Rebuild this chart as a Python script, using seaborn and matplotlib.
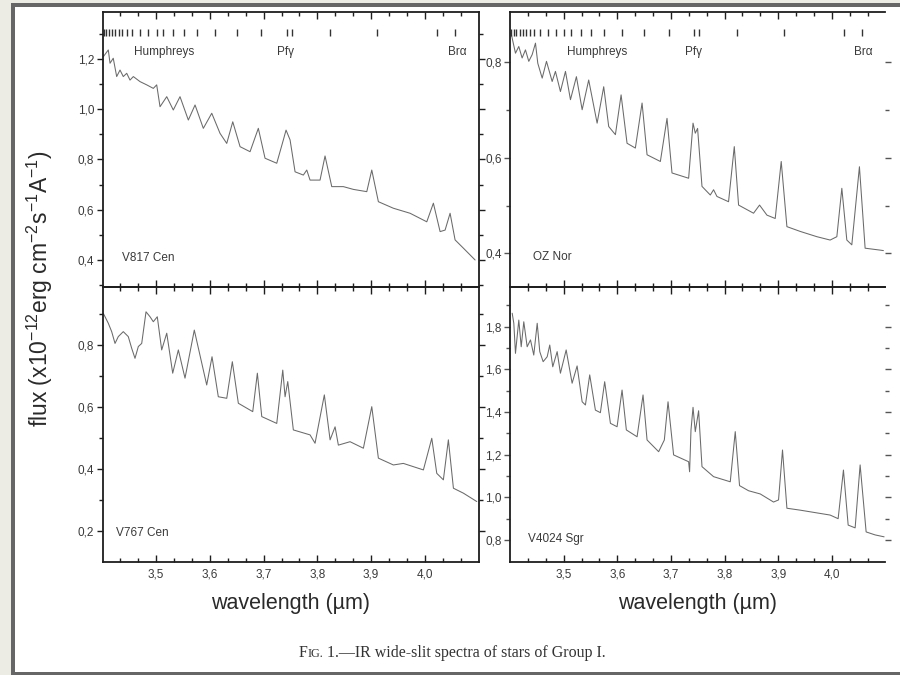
import matplotlib
matplotlib.use("Agg")
import matplotlib.pyplot as plt
import seaborn as sns
import pandas as pd
from matplotlib.ticker import FixedLocator, FuncFormatter
from matplotlib.patches import Rectangle

# ---------------- data ----------------
v817_wl = [3.4015, 3.4108, 3.4140, 3.4200, 3.4264, 3.4326, 3.4387, 3.4451, 3.4512, 3.4574,
           3.4698, 3.4823, 3.4946, 3.5009, 3.5071, 3.5196, 3.5318, 3.5443, 3.5598, 3.5723,
           3.5877, 3.6034, 3.6188, 3.6313, 3.6425, 3.6561, 3.6747, 3.6901, 3.7026, 3.7244,
           3.7367, 3.7417, 3.7492, 3.7585, 3.7739, 3.7803, 3.7864, 3.8050, 3.8143, 3.8268,
           3.8484, 3.8670, 3.8920, 3.9013, 3.9136, 3.9415, 3.9726, 4.0037, 4.0160, 4.0285,
           4.0378, 4.0471, 4.0564, 4.0719, 4.0937]
v817_flux = [1.209, 1.236, 1.183, 1.203, 1.130, 1.156, 1.130, 1.143, 1.116, 1.130,
             1.110, 1.097, 1.083, 1.097, 1.010, 1.050, 0.997, 1.050, 0.957, 1.017,
             0.924, 0.984, 0.904, 0.864, 0.950, 0.851, 0.831, 0.924, 0.805, 0.785,
             0.878, 0.917, 0.878, 0.751, 0.738, 0.758, 0.718, 0.718, 0.814, 0.692,
             0.692, 0.681, 0.672, 0.758, 0.632, 0.606, 0.586, 0.552, 0.626, 0.513,
             0.519, 0.586, 0.480, 0.447, 0.400]

oznor_wl = [3.4020, 3.4102, 3.4164, 3.4226, 3.4288, 3.4350, 3.4413, 3.4475, 3.4518, 3.4600,
            3.4680, 3.4786, 3.4847, 3.4940, 3.5034, 3.5127, 3.5238, 3.5345, 3.5467, 3.5624,
            3.5747, 3.5840, 3.5965, 3.6071, 3.6182, 3.6337, 3.6462, 3.6555, 3.6803, 3.6927,
            3.7020, 3.7330, 3.7412, 3.7454, 3.7497, 3.7579, 3.7734, 3.7795, 3.7858, 3.8074,
            3.8181, 3.8261, 3.8540, 3.8652, 3.8790, 3.8944, 3.9056, 3.9162, 3.9410, 3.9721,
            3.9968, 4.0093, 4.0186, 4.0279, 4.0372, 4.0514, 4.0620, 4.0899, 4.0961]
oznor_flux = [0.860, 0.818, 0.832, 0.808, 0.825, 0.801, 0.815, 0.839, 0.797, 0.766,
              0.801, 0.759, 0.780, 0.738, 0.780, 0.721, 0.769, 0.700, 0.762, 0.672,
              0.748, 0.665, 0.648, 0.731, 0.630, 0.620, 0.714, 0.606, 0.592, 0.682,
              0.568, 0.557, 0.672, 0.651, 0.661, 0.540, 0.522, 0.533, 0.519, 0.508,
              0.623, 0.501, 0.484, 0.501, 0.480, 0.473, 0.592, 0.456, 0.446, 0.435,
              0.428, 0.435, 0.536, 0.428, 0.418, 0.581, 0.411, 0.407, 0.406]

v767_wl = [3.4015, 3.4108, 3.4171, 3.4233, 3.4294, 3.4387, 3.4480, 3.4544, 3.4605, 3.4667,
           3.4730, 3.4810, 3.4885, 3.4946, 3.5020, 3.5102, 3.5196, 3.5307, 3.5412, 3.5536,
           3.5709, 3.5940, 3.6039, 3.6156, 3.6313, 3.6417, 3.6529, 3.6797, 3.6883, 3.6965,
           3.7244, 3.7356, 3.7399, 3.7449, 3.7553, 3.7864, 3.7957, 3.8130, 3.8237, 3.8330,
           3.8391, 3.8609, 3.8857, 3.9013, 3.9136, 3.9415, 3.9601, 3.9974, 4.0130, 4.0223,
           4.0346, 4.0439, 4.0533, 4.0719, 4.0968]
v767_flux = [0.902, 0.870, 0.843, 0.805, 0.827, 0.843, 0.827, 0.789, 0.757, 0.795,
             0.805, 0.907, 0.891, 0.875, 0.891, 0.784, 0.838, 0.709, 0.784, 0.693,
             0.848, 0.671, 0.762, 0.633, 0.628, 0.746, 0.612, 0.585, 0.709, 0.569,
             0.547, 0.719, 0.633, 0.682, 0.526, 0.510, 0.483, 0.639, 0.494, 0.536,
             0.477, 0.488, 0.467, 0.601, 0.435, 0.413, 0.418, 0.397, 0.499, 0.386,
             0.365, 0.494, 0.338, 0.322, 0.295]

v4024_wl = [3.4041, 3.4071, 3.4102, 3.4164, 3.4209, 3.4257, 3.4320, 3.4382, 3.4443, 3.4507,
            3.4555, 3.4618, 3.4693, 3.4741, 3.4797, 3.4879, 3.4940, 3.5047, 3.5158, 3.5251,
            3.5345, 3.5406, 3.5486, 3.5592, 3.5685, 3.5765, 3.5872, 3.5996, 3.6089, 3.6169,
            3.6369, 3.6480, 3.6555, 3.6771, 3.6877, 3.6946, 3.7050, 3.7330, 3.7348, 3.7374,
            3.7412, 3.7454, 3.7516, 3.7579, 3.7795, 3.8106, 3.8199, 3.8279, 3.8447, 3.8665,
            3.8913, 3.9006, 3.9080, 3.9162, 3.9410, 3.9968, 4.0117, 4.0216, 4.0304, 4.0434,
            4.0527, 4.0639, 4.0806, 4.0974]
v4024_flux = [1.863, 1.816, 1.675, 1.831, 1.706, 1.823, 1.706, 1.738, 1.667, 1.816,
              1.683, 1.636, 1.659, 1.714, 1.612, 1.683, 1.582, 1.691, 1.535, 1.616,
              1.448, 1.433, 1.574, 1.409, 1.397, 1.542, 1.347, 1.331, 1.503, 1.316,
              1.284, 1.480, 1.269, 1.214, 1.269, 1.448, 1.199, 1.167, 1.120, 1.316,
              1.422, 1.308, 1.406, 1.144, 1.097, 1.073, 1.308, 1.055, 1.031, 1.016,
              0.978, 0.988, 1.222, 0.949, 0.940, 0.917, 0.900, 1.128, 0.870, 0.857,
              1.152, 0.838, 0.824, 0.815]

# hydrogen line markers (Humphreys series, Pf gamma, Br alpha)
line_marks = [3.402, 3.407, 3.412, 3.418, 3.424, 3.430, 3.437, 3.445, 3.455, 3.470,
              3.485, 3.501, 3.513, 3.532, 3.551, 3.575, 3.609, 3.650, 3.696, 3.743,
              3.752, 3.824, 3.911, 4.023, 4.056]
series_names = ["Humphreys", "Pfγ", "Brα"]

star_names = ["V817 Cen", "OZ Nor", "V767 Cen", "V4024 Sgr"]

x_major = [3.5, 3.6, 3.7, 3.8, 3.9, 4.0]
x_minor = [3.4333, 3.4667, 3.5333, 3.5667, 3.6333, 3.6667, 3.7333, 3.7667,
           3.8333, 3.8667, 3.9333, 3.9667, 4.0333, 4.0667]

# ---------------- style ----------------
sns.set_theme(style="ticks")
plt.rcParams['font.family'] = ['Liberation Sans', 'DejaVu Sans']
plt.rcParams['mathtext.fontset'] = 'custom'
plt.rcParams['mathtext.rm'] = 'Liberation Sans'
plt.rcParams['mathtext.it'] = 'Liberation Sans:italic'
plt.rcParams['mathtext.default'] = 'regular'

W, H = 900, 675
fig = plt.figure(figsize=(9, 6.75), dpi=100, facecolor='white')

# scanned-page frame
fig.patches.append(Rectangle((0, 0), 11 / W, 1, transform=fig.transFigure,
                             facecolor='#ecebe4', edgecolor='none', zorder=0))
fig.patches.append(Rectangle((0, 1 - 3 / H), 1, 3 / H, transform=fig.transFigure,
                             facecolor='#ecebe4', edgecolor='none', zorder=0))
fig.patches.append(Rectangle((11 / W, 0), 4 / W, 1 - 3 / H, transform=fig.transFigure,
                             facecolor='#666666', edgecolor='none', zorder=1))
fig.patches.append(Rectangle((11 / W, 1 - 7 / H), 1, 4 / H, transform=fig.transFigure,
                             facecolor='#666666', edgecolor='none', zorder=1))
fig.patches.append(Rectangle((11 / W, 0), 1, 3.5 / H, transform=fig.transFigure,
                             facecolor='#666666', edgecolor='none', zorder=1))


def rect(x0, y0, x1, y1):
    return [x0 / W, 1 - y1 / H, (x1 - x0) / W, (y1 - y0) / H]


comma = FuncFormatter(lambda v, p: f"{v:.1f}".replace('.', ','))

panels = [
    dict(wl=v817_wl, fl=v817_flux, name=star_names[0], pos=rect(102.5, 12, 478.5, 287),
         ylim=(0.2925, 1.387), ymaj=[0.4, 0.6, 0.8, 1.0, 1.2], ymin=[0.3, 0.5, 0.7, 0.9, 1.1, 1.3],
         top=True, right=False, lab_x=[3.515, 3.740, 4.060], name_xy=(0.052, 0.105)),
    dict(wl=oznor_wl, fl=oznor_flux, name=star_names[1], pos=rect(510, 12, 885.5, 287),
         ylim=(0.330, 0.904), ymaj=[0.4, 0.6, 0.8], ymin=[0.5, 0.7],
         top=True, right=True, lab_x=[3.562, 3.742, 4.058], name_xy=(0.061, 0.109)),
    dict(wl=v767_wl, fl=v767_flux, name=star_names[2], pos=rect(102.5, 287, 478.5, 562),
         ylim=(0.100, 0.987), ymaj=[0.2, 0.4, 0.6, 0.8], ymin=[0.3, 0.5, 0.7, 0.9],
         top=False, right=False, lab_x=None, name_xy=(0.035, 0.105)),
    dict(wl=v4024_wl, fl=v4024_flux, name=star_names[3], pos=rect(510, 287, 885.5, 562),
         ylim=(0.697, 1.986), ymaj=[0.8, 1.0, 1.2, 1.4, 1.6, 1.8], ymin=[0.9, 1.1, 1.3, 1.5, 1.7, 1.9],
         top=False, right=True, lab_x=None, name_xy=(0.048, 0.084)),
]

spine_col = '#1e1e1e'
txt_col = '#3a3a3a'
axes = []
for p in panels:
    ax = fig.add_axes(p['pos'])
    ax.set_facecolor('none')
    df = pd.DataFrame({'wavelength': p['wl'], 'flux': p['fl']})
    sns.lineplot(data=df, x='wavelength', y='flux', ax=ax, color='#6a6a6a',
                 linewidth=0.75, estimator=None, sort=False)
    ax.set_xlim(3.4, 4.1)
    ax.set_ylim(*p['ylim'])
    ax.set_xlabel('')
    ax.set_ylabel('')
    ax.xaxis.set_major_locator(FixedLocator(x_major))
    ax.xaxis.set_minor_locator(FixedLocator(x_minor))
    ax.yaxis.set_major_locator(FixedLocator(p['ymaj']))
    ax.yaxis.set_minor_locator(FixedLocator(p['ymin']))
    ax.xaxis.set_major_formatter(comma)
    ax.yaxis.set_major_formatter(comma)
    ax.tick_params(axis='x', which='both', direction='in', top=True, bottom=True,
                   color=spine_col, width=1.0, labelsize=8.5, labelcolor=txt_col, pad=5,
                   labelbottom=not p['top'])
    ax.tick_params(axis='x', which='major', length=5)
    ax.tick_params(axis='x', which='minor', length=3)
    ax.tick_params(axis='y', which='both', direction='out', left=True, right=True,
                   color=spine_col, width=1.0, labelsize=8.5, labelcolor=txt_col, pad=2)
    ax.tick_params(axis='y', which='major', length=4)
    ax.tick_params(axis='y', which='minor', length=3)
    for s in ax.spines.values():
        s.set_color(spine_col)
        s.set_linewidth(1.3)
    if p['right']:
        ax.spines['right'].set_visible(False)
        ax.tick_params(axis='y', which='both', right=True, color='#555555')

    ax.text(p['name_xy'][0], p['name_xy'][1], p['name'], transform=ax.transAxes,
            ha='left', va='center', fontsize=8.5, color=txt_col)

    if p['top']:
        tr = ax.get_xaxis_transform()
        ax.vlines(line_marks, 0.913, 0.938, transform=tr, color='#333333', linewidth=1.0)
        for nm, lx in zip(series_names, p['lab_x']):
            ax.text(lx, 0.855, nm, transform=tr, ha='center', va='center',
                    fontsize=8.5, color=txt_col)
    axes.append(ax)

# axis titles
fig.text(40 / W, 1 - 289 / H, r'flux (x10$^{-12}$erg cm$^{-2}$s$^{-1}$A$^{-1}$)',
         rotation=90, ha='center', va='center', fontsize=16.5, color='#2a2a2a')
fig.text(290.5 / W, 1 - 603 / H, 'wavelength (µm)', ha='center', va='center',
         fontsize=15.5, color='#2a2a2a')
fig.text(697.75 / W, 1 - 603 / H, 'wavelength (µm)', ha='center', va='center',
         fontsize=15.5, color='#2a2a2a')

# caption with small caps "Fig."
renderer = fig.canvas.get_renderer()
cap_parts = [("F", 11.5), ("IG.", 8.8), (" 1.—IR wide-slit spectra of stars of Group I.", 11.5)]
cap_texts = []
for s, fs in cap_parts:
    t = fig.text(0, 1 - 657 / H, s, ha='left', va='baseline', fontsize=fs,
                 family=['Liberation Serif', 'DejaVu Serif'], color='#333333')
    cap_texts.append(t)
widths = [t.get_window_extent(renderer).width for t in cap_texts]
total = sum(widths)
start = 452 - total / 2
for t, w in zip(cap_texts, widths):
    t.set_x(start / W)
    start += w

fig.savefig('out.png', dpi=100, facecolor='white')
